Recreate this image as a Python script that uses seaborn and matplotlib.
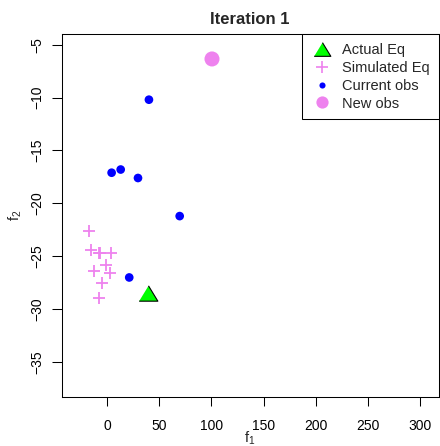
import matplotlib
matplotlib.use("Agg")
import matplotlib.pyplot as plt
from matplotlib.lines import Line2D
import seaborn as sns
import pandas as pd

# ---- data ----
actual_x = [39.0]
actual_y = [-28.5]
sim_x = [-17.3, -15.6, -8.0, -7.0, 3.3, -1.5, -12.5, 2.3, -5.4, -7.7]
sim_y = [-22.6, -24.4, -24.7, -24.7, -24.7, -25.8, -26.4, -26.6, -27.5, -28.9]
cur_x = [40.0, 4.2, 12.9, 29.5, 69.5, 21.1]
cur_y = [-10.2, -17.1, -16.8, -17.6, -21.2, -27.0]
new_x = [100.5]
new_y = [-6.35]
legend_labels = ["Actual Eq", "Simulated Eq", "Current obs", "New obs"]
x_ticks = [0, 50, 100, 150, 200, 250, 300]
y_ticks = [-35, -30, -25, -20, -15, -10, -5]
title = "Iteration 1"

sns.set_style("white")
plt.rcParams["font.family"] = ["Liberation Sans", "DejaVu Sans"]
plt.rcParams["mathtext.fontset"] = "custom"
plt.rcParams["mathtext.rm"] = "Liberation Sans"
plt.rcParams["mathtext.it"] = "Liberation Sans"

fig = plt.figure(figsize=(4.4, 4.46), dpi=100)
ax = fig.add_axes([0.1402, 0.1105, 0.8564, 0.8133])

tri = [(-1, -0.82), (1, -0.82), (0, 0.82)]

sim_df = pd.DataFrame({"x": sim_x, "y": sim_y})
act_df = pd.DataFrame({"x": actual_x, "y": actual_y})
cur_df = pd.DataFrame({"x": cur_x, "y": cur_y})
new_df = pd.DataFrame({"x": new_x, "y": new_y})

sns.scatterplot(data=sim_df, x="x", y="y", ax=ax, marker="+", s=72,
                color="#EE82EE", linewidth=1.3, legend=False)
sns.scatterplot(data=act_df, x="x", y="y", ax=ax, marker=tri, s=182,
                color="#00FF00", edgecolor="black", linewidth=0.8, legend=False)
sns.scatterplot(data=cur_df, x="x", y="y", ax=ax, marker="o", s=39,
                color="#0000FF", edgecolor="none", linewidth=0, legend=False)
sns.scatterplot(data=new_df, x="x", y="y", ax=ax, marker="o", s=117,
                color="#EE82EE", edgecolor="none", linewidth=0, legend=False)

ax.set_xlim(-43.7, 317.8)
ax.set_ylim(-38.27, -3.99)
ax.set_xticks(x_ticks)
ax.set_yticks(y_ticks)
ax.set_xticklabels([str(t) for t in x_ticks])
ax.set_yticklabels(["\u2212" + str(abs(t)) for t in y_ticks], rotation=90,
                   va="center")
ax.tick_params(axis="x", direction="out", length=6.7, width=0.75, pad=9,
               labelsize=10, colors="black", bottom=True)
ax.tick_params(axis="y", direction="out", length=7.2, width=0.75, pad=5,
               labelsize=10, colors="black", left=True)
for sp in ax.spines.values():
    sp.set_visible(True)
    sp.set_color("black")
    sp.set_linewidth(0.75)

ax.set_xlabel(r"$\mathregular{f_1}$", fontsize=10.5)
ax.set_ylabel(r"$\mathregular{f_2}$", fontsize=10.5)
ax.xaxis.label.set_va("center")
ax.yaxis.label.set_va("center")
ax.xaxis.set_label_coords(0.5, -0.114)
ax.yaxis.set_label_coords(-0.122, 0.5)
ax.set_title(title, fontsize=12, fontweight="bold", pad=7)

handles = [
    Line2D([], [], linestyle="none", marker=tri, markersize=12,
           markerfacecolor="#00FF00", markeredgecolor="black", markeredgewidth=0.8),
    Line2D([], [], linestyle="none", marker="+", markersize=8,
           color="#EE82EE", markeredgewidth=1.2),
    Line2D([], [], linestyle="none", marker="o", markersize=4.4,
           markerfacecolor="#0000FF", markeredgecolor="none"),
    Line2D([], [], linestyle="none", marker="o", markersize=8.8,
           markerfacecolor="#EE82EE", markeredgecolor="none"),
]
leg = ax.legend(handles, legend_labels, loc="upper right",
                bbox_to_anchor=(1, 1), borderaxespad=0, fontsize=10.5,
                frameon=True, fancybox=False, shadow=False,
                borderpad=0.6, handlelength=1.5, handletextpad=0.62,
                labelspacing=0.27)
leg.get_frame().set_edgecolor("black")
leg.get_frame().set_linewidth(0.75)
leg.get_frame().set_alpha(1)

fig.savefig("out.png", dpi=100)
